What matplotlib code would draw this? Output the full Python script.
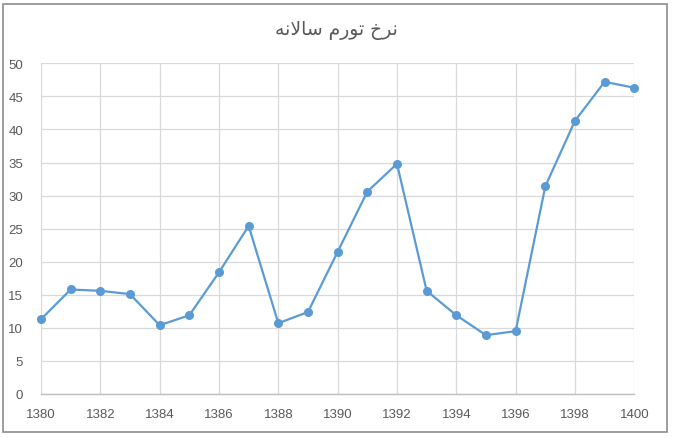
import matplotlib
matplotlib.use("Agg")
import matplotlib.pyplot as plt
from matplotlib.patches import Rectangle

years = list(range(1380, 1401))
inflation = [11.3, 15.8, 15.6, 15.1, 10.4, 11.9, 18.4, 25.4, 10.7, 12.4,
             21.5, 30.6, 34.8, 15.6, 11.9, 8.9, 9.5, 31.4, 41.3, 47.2, 46.3]
x_ticks = list(range(1380, 1401, 2))
y_ticks = list(range(0, 51, 5))
# Title "نرخ تورم سالانه" written in shaped Arabic presentation forms, visual order
title_text = "\uFEEA\uFEE7\uFEFB\uFE8E\uFEB3 \uFEE1\uFEAD\uFEEE\uFE97 \uFEA5\uFEAE\uFEE7"

W, H = 673, 439
fig = plt.figure(figsize=(W / 100, H / 100), dpi=100)
fig.patch.set_facecolor("white")

# outer chart border
fig.patches.append(Rectangle((3 / W, 1 - 433 / H), (667 - 3) / W, (433 - 5) / H,
                             transform=fig.transFigure, fill=False,
                             edgecolor="#8c8c8c", linewidth=1.2))

ax = fig.add_axes([41 / W, 1 - 395 / H, (634.3 - 41) / W, (395 - 64.3) / H])
ax.plot(years, inflation, color="#5B9BD5", linewidth=1.6, marker="o",
        markersize=5.5, markeredgecolor="#5B9BD5", markerfacecolor="#5B9BD5",
        zorder=3, clip_on=False)

ax.set_xlim(1380, 1400)
ax.set_ylim(0, 50)
ax.set_xticks(x_ticks)
ax.set_yticks(y_ticks)
ax.grid(True, color="#d9d9d9", linewidth=0.9)
ax.set_axisbelow(True)
for s in ["top", "right", "left"]:
    ax.spines[s].set_visible(False)
ax.spines["bottom"].set_color("#bfbfbf")
ax.spines["bottom"].set_linewidth(1.0)
ax.tick_params(axis="both", length=0, labelsize=9.5, labelcolor="#595959")
ax.tick_params(axis="x", pad=10)
ax.tick_params(axis="y", pad=13)
for lab in ax.get_xticklabels() + ax.get_yticklabels():
    lab.set_fontfamily("Liberation Sans")

fig.text(336 / W, 1 - 31 / H, title_text, ha="center", va="center",
         fontsize=13.5, color="#595959", family=["DejaVu Sans"])

fig.savefig("out.png", dpi=100)
